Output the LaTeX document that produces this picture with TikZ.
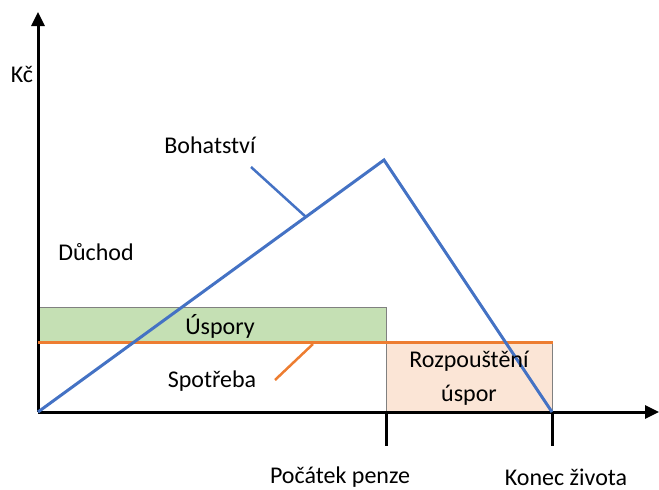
\documentclass[tikz,border=0pt]{standalone}
\usepackage{fontspec}
\setmainfont{Carlito}
\usetikzlibrary{arrows.meta}
\definecolor{cblue}{HTML}{4472C4}
\definecolor{corange}{HTML}{ED7D31}
\definecolor{cgreen}{HTML}{C5E0B4}
\definecolor{cpink}{HTML}{FBE5D6}
\begin{document}
\begin{tikzpicture}[x=1pt,y=-1pt,
  lbl/.style={font=\fontsize{24}{34}\selectfont, inner sep=0pt, align=center},
  axis/.style={line width=3pt, draw=black, -{Triangle[length=14pt,width=13pt]}},
  tick/.style={line width=3pt, draw=black},
  area/.style={draw=black!50, line width=0.8pt},
  wealth/.style={draw=cblue, line width=3pt},
  cons/.style={draw=corange, line width=3pt},
  leader/.style={line width=2.5pt}]
\useasboundingbox (0,0) rectangle (659,490);
% areas
\draw[area, fill=cgreen] (38,307) rectangle (386,342);
\draw[area, fill=cpink] (386,342) rectangle (552,412);
% axes
\coordinate (O) at (38,412);
\coordinate (Ytip) at (38,12);
\coordinate (Xtip) at (659,412);
\draw[axis] (O) -- (Ytip);
\draw[axis] (O) -- (Xtip);
\coordinate (T1a) at (386,412); \coordinate (T1b) at (386,446);
\coordinate (T2a) at (552,412); \coordinate (T2b) at (552,446);
\draw[tick] (T1a) -- (T1b);
\draw[tick] (T2a) -- (T2b);
% consumption
\coordinate (C0) at (38,342); \coordinate (C1) at (553,342);
\draw[cons] (C0) -- (C1);
% wealth
\coordinate (Peak) at (384,160);
\coordinate (End) at (552,412);
\draw[wealth, line join=miter] (O) -- (Peak) -- (End);
% labels
\node[lbl] (kc) at (22,74) {Kč};
\node[lbl] (boh) at (210,145) {Bohatství};
\node[lbl] (duch) at (96,252) {Důchod};
\node[lbl] (usp) at (220,326) {Úspory};
\node[lbl] (spot) at (212,381) {Spotřeba};
\node[lbl] (roz) at (469,378) {Rozpouštění\\úspor};
\node[lbl] (pp) at (340,477) {Počátek penze};
\node[lbl] (kz) at (566,477) {Konec života};
% leaders
\coordinate (BL1) at (251,167); \coordinate (BL2) at (306,217);
\draw[leader, cblue] (BL1) -- (BL2);
\coordinate (SL1) at (275,380); \coordinate (SL2) at (313,344);
\draw[leader, corange] (SL1) -- (SL2);
\end{tikzpicture}
\end{document}
